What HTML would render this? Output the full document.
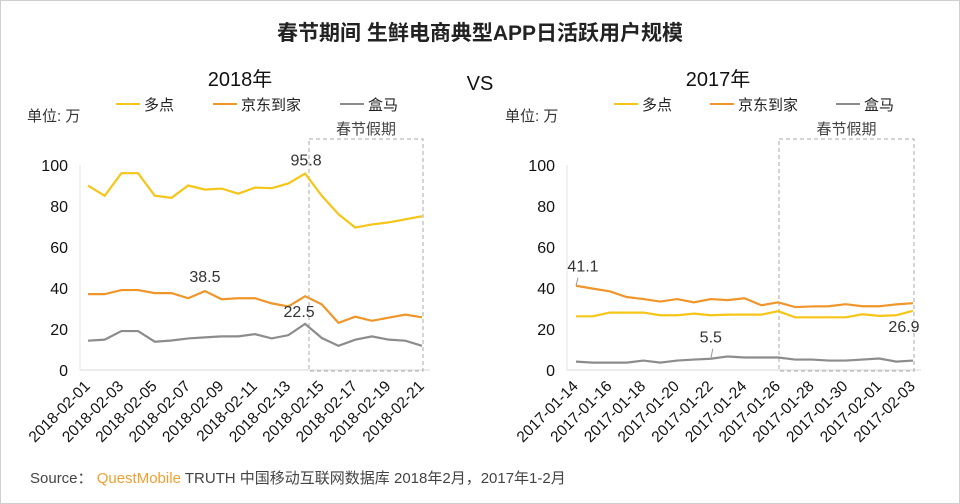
<!DOCTYPE html>
<html><head><meta charset="utf-8"><style>
body{margin:0;background:#fff;}
svg{display:block;font-family:"Liberation Sans","Noto Sans CJK SC",sans-serif;}
</style></head><body>
<svg id="c" width="960" height="504">
<rect x="0.5" y="0.5" width="959" height="503" fill="#fff" stroke="#cfcfcf"/>
<text x="480" y="40" text-anchor="middle" font-size="21" font-weight="bold" fill="#222">春节期间  生鲜电商典型APP日活跃用户规模</text>
<text x="240" y="86" text-anchor="middle" font-size="20" fill="#111">2018年</text>
<text x="480" y="90" text-anchor="middle" font-size="20" fill="#111">VS</text>
<text x="718" y="86" text-anchor="middle" font-size="20" fill="#111">2017年</text>
<g id="g"></g>
<text x="30" y="483" font-size="15" fill="#444">Source：  <tspan fill="#f0a030">QuestMobile</tspan> TRUTH 中国移动互联网数据库 2018年2月，2017年1-2月</text>
</svg>
<script>
const labels2018 = ["2018-02-01","2018-02-03","2018-02-05","2018-02-07","2018-02-09","2018-02-11","2018-02-13","2018-02-15","2018-02-17","2018-02-19","2018-02-21"];
const labels2017 = ["2017-01-14","2017-01-16","2017-01-18","2017-01-20","2017-01-22","2017-01-24","2017-01-26","2017-01-28","2017-01-30","2017-02-01","2017-02-03"];
const yTicks = [0,20,40,60,80,100];
const duodian2018 = [90,85,96,96,85,84,90,88,88.5,86,89,88.7,91,95.8,85,76,69.5,71,72,73.5,75];
const jd2018 = [37,37,39,39,37.5,37.5,35,38.5,34.5,35,35,32.5,31,36,32,23,26,24,25.5,27,25.7];
const hema2018 = [14.3,14.8,19,19,13.8,14.4,15.4,15.9,16.4,16.4,17.5,15.4,17,22.5,15.6,11.8,14.8,16.4,14.8,14.3,11.8];
const duodian2017 = [26.2,26.2,28,28,28,26.7,26.7,27.5,26.7,27,27,27,28.7,25.7,25.7,25.7,25.7,27.2,26.4,26.7,28.9];
const jd2017 = [41.1,39.7,38.4,35.6,34.6,33.4,34.6,33,34.6,34.1,35,31.6,33,30.7,31,31.1,32.1,31.1,31.1,32,32.6];
const hema2017 = [4.1,3.6,3.6,3.6,4.6,3.6,4.6,5.1,5.5,6.6,6.1,6.1,6.1,5.1,5.1,4.6,4.6,5.1,5.6,4.1,4.6];
const annText2018 = ["95.8","38.5","22.5"];
const annText2017 = ["41.1","26.9","5.5"];
const seriesNames = ["多点","京东到家","盒马"];
const colors = ["#f5c518","#f0952a","#8c8c8c"];
const NS="http://www.w3.org/2000/svg";
const G=document.getElementById('g');
function mk(t,a,p){const e=document.createElementNS(NS,t);for(const k in a)e.setAttribute(k,a[k]);(p||G).appendChild(e);return e;}
function panel(o){
 const x=i=>o.x0+i*(o.x1-o.x0)/(o.n-1);
 const y=v=>370-v*2.05;
 const ax=mk('line',{x1:o.ax,y1:370,x2:o.x1+8,y2:370,stroke:'#d9d9d9'});
 
 
 const ay=mk('line',{x1:o.ax,y1:165,x2:o.ax,y2:370,stroke:'#e5e5e5'});
 
 
 yTicks.forEach(t=>{const e=mk('text',{x:o.ax-12,y:y(t)+6,'text-anchor':'end','font-size':16,fill:'#111'});e.textContent=t;
  
  });
 o.labels.forEach((l,k)=>{const xx=x(k*2)+3;const yy=387;const e=mk('text',{x:xx,y:yy,'text-anchor':'end','font-size':15.5,fill:'#111',transform:`rotate(-45 ${xx} ${yy})`});e.textContent=l;
  
  });
 const u=mk('text',{x:o.ux,y:121,'font-size':15,fill:'#333'});u.textContent='单位: 万';
 
 
 const b=mk('rect',{x:o.bx0,y:139,width:o.bx1-o.bx0,height:232,fill:'none',stroke:'#aaa','stroke-dasharray':'4,3'});
 
 
 const bt=mk('text',{x:(o.bx0+o.bx1)/2,y:134,'text-anchor':'middle','font-size':15,fill:'#444'});bt.textContent='春节假期';
 
 
 o.series.forEach((s,j)=>{
  const p=mk('polyline',{points:s.map((v,i)=>x(i)+','+y(v)).join(' '),fill:'none',stroke:colors[j],'stroke-width':2.2});
  
  
  const lx=o.lx[j];
  const ll=mk('line',{x1:lx,y1:104,x2:lx+24,y2:104,stroke:colors[j],'stroke-width':2});
  
  
  const lt=mk('text',{x:lx+28,y:110,'font-size':15,fill:'#222'});lt.textContent=seriesNames[j];
  
  
 });
 o.ann.forEach((a,k)=>{const v=o.series[a[0]][a[1]];const e=mk('text',{x:x(a[1])+a[2],y:y(v)+a[3],'text-anchor':'middle','font-size':16,fill:'#333'});e.textContent=o.annText[k];
  
  
  if(a[4]){const l=mk('line',{x1:x(a[1])+a[4][0],y1:y(v)+a[4][1],x2:x(a[1]),y2:y(v),stroke:'#999'});
   
   }});
}
panel({id:'p2018',n:21,x0:88,x1:422,ax:80,ux:27,bx0:309,bx1:423,labels:labels2018,series:[duodian2018,jd2018,hema2018],lx:[116,213,340],annText:annText2018,
 ann:[[0,13,1,-8],[1,7,0,-9],[2,13,-6,-7]]});
panel({id:'p2017',n:21,x0:576,x1:913,ax:567,ux:505,bx0:779,bx1:914,labels:labels2017,series:[duodian2017,jd2017,hema2017],lx:[614,710,836],annText:annText2017,
 ann:[[1,0,7,-14,[2,-8]],[0,20,-9,21],[2,8,0,-16,[2,-10]]]});
</script>
</body></html>
